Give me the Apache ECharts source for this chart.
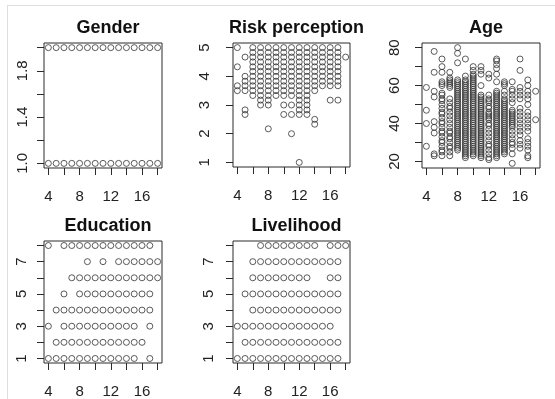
<!DOCTYPE html>
<html>
<head>
<meta charset="utf-8">
<script src="https://cdn.jsdelivr.net/npm/echarts@6/dist/echarts.min.js"></script>
<style>
html, body { margin: 0; padding: 0; background: #fff; }
#chart { width: 555px; height: 399px; }
</style>
</head>
<body>
<div id="chart"></div>
<script>
// x is the same integer score (4..18) in every panel
const xLevels = [4, 5, 6, 7, 8, 9, 10, 11, 12, 13, 14, 15, 16, 17, 18];
const xTicks = [4, 6, 8, 10, 12, 14, 16, 18];
const xTickLabels = [4, 8, 12, 16];

const genderLevels = [1, 2];
const genderTicks = [1.0, 1.2, 1.4, 1.6, 1.8, 2.0];
const genderTickLabels = [1.0, 1.4, 1.8];

// risk perception values, one list per x level (4..18)
const riskValues = [
  [5, 4.33, 3.67, 3.5],
  [4.67, 4, 3.83, 3.67, 3.5, 2.83, 2.67],
  [5, 4.83, 4.67, 4.5, 4.33, 4.17, 4, 3.83, 3.67, 3.5, 3.33],
  [5, 4.83, 4.67, 4.5, 4.33, 4.17, 4, 3.83, 3.67, 3.5, 3.33, 3.17, 3],
  [5, 4.83, 4.67, 4.5, 4.33, 4.17, 4, 3.83, 3.67, 3.5, 3.33, 3.17, 3, 2.17],
  [5, 4.83, 4.67, 4.5, 4.33, 4.17, 4, 3.83, 3.67, 3.5, 3.33],
  [5, 4.83, 4.67, 4.5, 4.33, 4.17, 4, 3.83, 3.67, 3.5, 3.33, 3, 2.67],
  [5, 4.83, 4.67, 4.5, 4.33, 4.17, 4, 3.83, 3.67, 3.5, 3.33, 3, 2.67, 2],
  [5, 4.83, 4.67, 4.5, 4.33, 4.17, 4, 3.83, 3.67, 3.5, 3.33, 3.17, 3, 2.83, 2.67, 1],
  [5, 4.83, 4.67, 4.5, 4.33, 4.17, 4, 3.83, 3.67, 3.5, 3.33, 3.17, 3, 2.83, 2.67],
  [5, 4.83, 4.67, 4.5, 4.33, 4.17, 4, 3.83, 3.67, 3.5, 2.5, 2.33],
  [5, 4.83, 4.67, 4.5, 4.33, 4.17, 4, 3.83, 3.67],
  [5, 4.83, 4.67, 4.5, 4.33, 4.17, 4, 3.83, 3.67, 3.17],
  [5, 4.83, 4.67, 4.5, 4.33, 4.17, 4, 3.83, 3.67, 3.17],
  [4.67]
];
const riskTicks = [1, 2, 3, 4, 5];
const riskTickLabels = [1, 2, 3, 4, 5];

// age values, one list per x level (4..18)
const ageValues = [
  [59, 47, 40, 28],
  [78, 67, 57, 54, 41, 38, 35, 24, 23],
  [74, 70, 67, 62, 61, 60, 56, 55, 53, 52, 50, 48, 46, 45, 43, 41, 40, 38, 36, 35, 33, 31, 30, 28, 26, 25, 23],
  [67, 64, 63, 62, 61, 60, 59, 53, 51, 49, 48, 46, 44, 42, 40, 38, 36, 35, 33, 32, 30, 28, 27, 25, 23],
  [80, 77, 72, 63, 62, 61, 60, 59, 58, 57, 56, 55, 54, 53, 52, 51, 50, 49, 48, 47, 46, 45, 44, 43, 42, 41, 40, 39, 38, 37, 36, 35, 34, 33, 32, 31, 30, 29, 28, 27, 26],
  [74, 65, 63, 62, 61, 60, 59, 58, 57, 56, 55, 54, 53, 52, 51, 50, 49, 48, 47, 46, 45, 44, 43, 42, 41, 40, 39, 38, 37, 36, 35, 34, 33, 32, 31, 30, 29, 28, 27, 26, 25, 24, 23, 22],
  [70, 68, 66, 65, 64, 63, 62, 61, 60, 59, 58, 57, 56, 55, 54, 53, 52, 51, 50, 49, 48, 47, 46, 45, 44, 43, 42, 41, 40, 39, 38, 37, 36, 35, 34, 33, 32, 31, 30, 29, 28, 27, 26, 25, 24, 23],
  [70, 68, 66, 60, 55, 54, 53, 52, 51, 50, 49, 48, 47, 46, 45, 44, 43, 42, 41, 40, 39, 38, 37, 36, 35, 34, 33, 32, 31, 30, 29, 28, 27, 26, 25, 24, 23, 22],
  [66, 64, 55, 53, 52, 51, 49, 48, 46, 45, 44, 43, 42, 40, 39, 37, 35, 33, 31, 29, 28, 26, 24, 22, 21],
  [74, 73, 71, 69, 66, 62, 57, 56, 55, 54, 53, 52, 51, 50, 49, 48, 47, 46, 45, 44, 43, 42, 41, 40, 39, 38, 37, 36, 35, 34, 33, 32, 31, 30, 29, 28, 27, 26, 25, 24, 23, 22],
  [62, 61, 60, 57, 55, 53, 52, 51, 50, 49, 48, 47, 46, 45, 44, 43, 42, 41, 40, 39, 38, 37, 36, 35, 34, 33, 32, 31, 30, 29, 28, 27, 26, 25, 24],
  [62, 58, 57, 55, 53, 51, 47, 46, 45, 44, 43, 42, 41, 40, 39, 38, 36, 34, 32, 30, 29, 27, 24, 19],
  [74, 68, 59, 57, 55, 53, 48, 46, 44, 42, 40, 38, 36, 34, 31, 29, 27],
  [63, 60, 57, 55, 53, 50, 46, 44, 42, 40, 38, 36, 32, 30, 28, 26, 23, 22],
  [57, 42]
];
const ageTicks = [20, 30, 40, 50, 60, 70, 80];
const ageTickLabels = [20, 40, 60, 80];

// education and livelihood: x values present at each level 1..8
const eduRows = [
  [4, 5, 6, 7, 8, 9, 10, 11, 12, 13, 14, 15, 17],
  [5, 6, 7, 8, 9, 10, 11, 12, 13, 14, 15, 16],
  [4, 6, 7, 8, 9, 10, 11, 12, 13, 14, 15, 17],
  [5, 6, 7, 8, 9, 10, 11, 12, 13, 14, 15, 16, 17],
  [6, 8, 9, 10, 11, 12, 13, 14, 15, 16, 17],
  [7, 8, 9, 10, 11, 12, 13, 14, 15, 16, 17, 18],
  [9, 11, 13, 14, 15, 16, 17, 18],
  [4, 6, 7, 8, 9, 10, 11, 12, 13, 14, 15, 16, 17]
];
const livRows = [
  [4, 5, 6, 7, 8, 9, 10, 11, 12, 13, 14, 15, 16, 17],
  [5, 6, 7, 8, 9, 10, 11, 12, 13, 14, 15, 16, 17],
  [4, 5, 6, 7, 8, 9, 10, 11, 12, 13, 14, 15, 16],
  [6, 7, 8, 9, 10, 11, 12, 13, 14, 15, 16, 17],
  [5, 6, 7, 8, 9, 10, 11, 12, 13, 14, 15, 16, 17],
  [6, 7, 8, 9, 10, 11, 12, 13, 16, 17],
  [6, 7, 8, 9, 10, 11, 12, 13, 14, 15, 16, 17],
  [7, 8, 9, 10, 11, 12, 13, 14, 16, 17, 18]
];
const levelTicks = [1, 2, 3, 4, 5, 6, 7, 8];
const levelTickLabels = [1, 3, 5, 7];

const FONT = 'Liberation Sans, Arial, sans-serif';
const INK = '#2b2b2b';

// build [x, y] points
const genderData = [];
xLevels.forEach(x => genderLevels.forEach(g => genderData.push([x, g])));
const byColumn = lists => {
  const out = [];
  lists.forEach((ys, i) => ys.forEach(y => out.push([xLevels[i], y])));
  return out;
};
const byRow = rows => {
  const out = [];
  rows.forEach((xs, i) => xs.forEach(x => out.push([x, i + 1])));
  return out;
};

// R pads every axis by 4 % of the data range
const pad = (lo, hi) => [lo - (hi - lo) * 0.04, hi + (hi - lo) * 0.04];

const panels = [
  {title: 'Gender', box: [44, 43, 118, 125], y: pad(1, 2), ticks: genderTicks, labels: genderTickLabels,
    fmt: v => Number(v).toFixed(1), ym: 14, data: genderData},
  {title: 'Risk perception', box: [233, 43, 117, 124], y: pad(1, 5), ticks: riskTicks, labels: riskTickLabels,
    fmt: v => v, ym: 21, data: byColumn(riskValues)},
  {title: 'Age', box: [422, 43, 118, 125], y: pad(19, 80), ticks: ageTicks, labels: ageTickLabels,
    fmt: v => v, ym: 20, data: byColumn(ageValues)},
  {title: 'Education', box: [44, 241, 118, 125], y: pad(1, 8), ticks: levelTicks, labels: levelTickLabels,
    fmt: v => v, ym: 15, data: byRow(eduRows)},
  {title: 'Livelihood', box: [233, 241, 117, 125], y: pad(1, 8), ticks: levelTicks, labels: levelTickLabels,
    fmt: v => v, ym: 17, data: byRow(livRows)}
];
const xRange = pad(4, 18);

const chart = echarts.init(document.getElementById('chart'), null, {renderer: 'canvas'});
chart.setOption({
  animation: false,
  backgroundColor: '#fff',
  textStyle: {fontFamily: FONT},
  title: panels.map(p => ({
    text: p.title,
    left: p.box[0] + p.box[2] / 2,
    top: p.box[1] - 29,
    textAlign: 'center',
    textStyle: {fontSize: 18, fontWeight: 'bold', color: '#111', fontFamily: FONT}
  })),
  grid: panels.map(p => ({
    left: p.box[0], top: p.box[1], width: p.box[2], height: p.box[3],
    show: true, borderColor: INK, borderWidth: 1, backgroundColor: 'transparent'
  })),
  xAxis: panels.map((p, i) => ({
    gridIndex: i, type: 'value', min: xRange[0], max: xRange[1],
    axisLine: {show: false}, splitLine: {show: false},
    axisTick: {show: true, customValues: xTicks, length: 7, lineStyle: {color: INK}},
    axisLabel: {customValues: xTickLabels, margin: 21, fontSize: 15, color: '#222', fontFamily: FONT}
  })),
  yAxis: panels.map((p, i) => ({
    gridIndex: i, type: 'value', min: p.y[0], max: p.y[1],
    axisLine: {show: false}, splitLine: {show: false},
    axisTick: {show: true, customValues: p.ticks, length: 7, lineStyle: {color: INK}},
    axisLabel: {customValues: p.labels, rotate: 90, margin: p.ym, fontSize: 15, color: '#222',
      fontFamily: FONT, formatter: p.fmt}
  })),
  series: panels.map((p, i) => ({
    type: 'scatter', xAxisIndex: i, yAxisIndex: i, data: p.data,
    symbol: 'circle', symbolSize: 6, silent: true,
    itemStyle: {color: 'rgba(0,0,0,0)', borderColor: '#333', borderWidth: 1}
  })),
  graphic: [
    {type: 'line', shape: {x1: 7, y1: 5.5, x2: 555, y2: 5.5}, style: {stroke: '#dedede', lineWidth: 1}},
    {type: 'line', shape: {x1: 7.5, y1: 5, x2: 7.5, y2: 399}, style: {stroke: '#dedede', lineWidth: 1}}
  ]
});
</script>
</body>
</html>
